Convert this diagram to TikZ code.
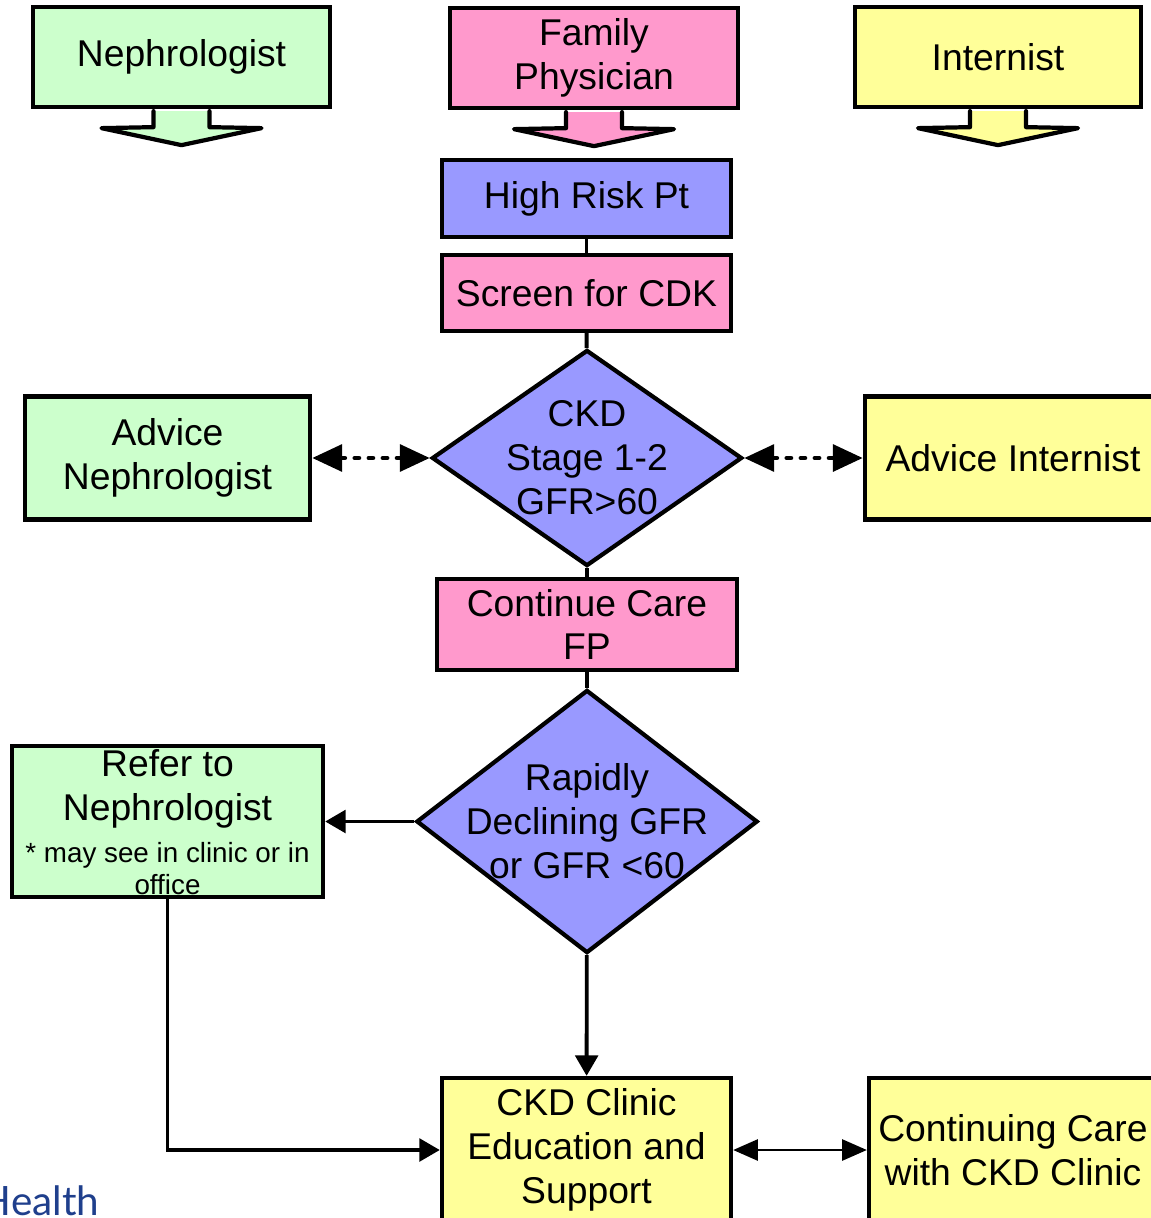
\documentclass[tikz,border=0pt]{standalone}
\usepackage{fontspec}
\setmainfont{Liberation Sans}
\newfontfamily\healthfont{Lato}
\usetikzlibrary{arrows.meta,shapes.geometric,positioning}
\definecolor{nephgreen}{HTML}{CCFFCC}
\definecolor{fppink}{HTML}{FF99CC}
\definecolor{intyellow}{HTML}{FFFF99}
\definecolor{riskblue}{HTML}{9999FF}
\definecolor{healthblue}{HTML}{1F3F8C}
\tikzset{
	box/.style={draw=black, line width=1.2pt, rectangle, align=center, inner sep=0pt},
	decision/.style={draw=black, line width=1.2pt, diamond, inner sep=0pt, fill=riskblue},
	link/.style={black, line width=1.1pt},
	arr/.style={link, -{Triangle[length=5.8pt,width=6.4pt]}},
	dotlink/.style={black, line width=1.4pt, line cap=round, dash pattern=on 1.1pt off 2.9pt,
			{Triangle[length=8.5pt,width=7.5pt]}-{Triangle[length=8.5pt,width=7.5pt]}},
	thinlink/.style={black, line width=0.6pt, {Triangle[length=7pt,width=6pt]}-{Triangle[length=7pt,width=6pt]}},
	blockarrow/.style={draw=black, line width=1.2pt, line join=round, line cap=round},
	smalltext/.style={font=\fontsize{7.9}{9.1}\selectfont}
}

\begin{document}
\begin{tikzpicture}[x=0.01cm, y=-0.01cm, font=\fontsize{10.6}{12.5}\selectfont]
	\useasboundingbox (0,0) rectangle (1150,1218);

	\node[box, fill=nephgreen, minimum width=2.97cm, minimum height=1cm] (neph) at (181.5,57) {Nephrologist};
	\node[box, fill=fppink, minimum width=2.88cm, minimum height=1cm] (family) at (594,58) {Family\\Physician};
	\node[box, fill=intyellow, minimum width=2.86cm, minimum height=1cm] (intern) at (998,57) {Internist};

	\foreach \n/\col in {neph/nephgreen, family/fppink, intern/intyellow} {
		\filldraw[blockarrow, fill=\col] (\n.south) ++(-28,2) -- ++(0,16) -- ++(-52,1) -- ++(80,17) -- ++(80,-17) -- ++(-52,-1) -- ++(0,-16);
	}

	\node[box, fill=riskblue, minimum width=2.89cm, minimum height=0.77cm] (highrisk) at (586.5,198.5) {High Risk Pt};
	\node[box, fill=fppink, minimum width=2.89cm, minimum height=0.76cm] (screen) at (586.5,293) {Screen for CDK};

	\node[decision, minimum width=3.1cm, minimum height=2.16cm] (stage) at (587,458) {};
	\node[align=center] (stagetxt) at (stage) {CKD\\Stage 1-2\\GFR>60};

	\node[box, fill=nephgreen, minimum width=2.85cm, minimum height=1.23cm] (advneph) at (167.5,458) {Advice\\Nephrologist};
	\node[box, fill=intyellow, minimum width=2.96cm, minimum height=1.23cm] (advint) at (1013,458) {Advice Internist};

	\node[box, fill=fppink, minimum width=3cm, minimum height=0.91cm] (continue) at (587,624.5) {Continue Care\\FP};

	\node[decision, minimum width=3.41cm, minimum height=2.63cm] (rapid) at (587,821.5) {};
	\node[align=center] (rapidtxt) at (rapid) {Rapidly\\Declining GFR\\or GFR <60};

	\node[box, fill=nephgreen, minimum width=3.11cm, minimum height=1.51cm] (refer) at (167.5,821.5) {};
	\node[align=center] (refertxt) at (167.5,789) {Refer to\\Nephrologist};
	\node[align=center, smalltext, below=-3pt of refertxt] (refernote) {* may see in clinic or in\\office};

	\node[box, fill=intyellow, minimum width=2.89cm, minimum height=1.44cm] (clinic) at (586.5,1150) {CKD Clinic\\Education and\\Support};
	\node[box, fill=intyellow, minimum width=2.88cm, minimum height=1.44cm] (contcare) at (1013,1150) {Continuing Care\\with CKD Clinic};

	\draw[link] (highrisk) -- (screen);
	\draw[link] (screen) -- (stage);
	\draw[link] (stage) -- (continue);
	\draw[link] (continue) -- (rapid);
	\draw[dotlink] (advneph) -- (stage);
	\draw[dotlink] (stage) -- (advint);
	\draw[arr] (rapid) -- (refer);
	\draw[arr] (rapid) -- (clinic);
	\draw[arr] (refer) |- (clinic);
	\draw[thinlink] (clinic) -- (contcare);

	\node[healthblue, font=\healthfont\fontsize{11.5}{12}\selectfont, anchor=base east, inner sep=0pt] (health) at (100,1215) {Health};
\end{tikzpicture}
\end{document}
